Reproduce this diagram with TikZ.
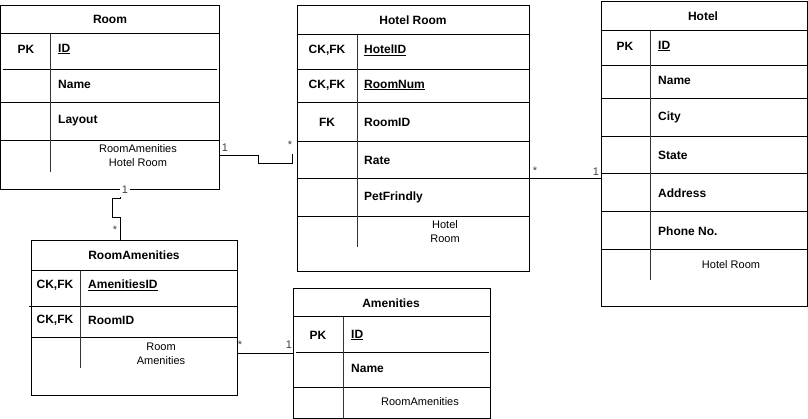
\documentclass[tikz,border=0pt]{standalone}
\usepackage{fontspec}
\setmainfont{Liberation Sans}
\usetikzlibrary{calc}
\begin{document}
\begin{tikzpicture}[x=1pt,y=-1pt,
  tbl/.style={draw, line width=1pt, anchor=north west, inner sep=0pt},
  rowline/.style={line width=1pt},
  divline/.style={line width=1pt, black!80},
  hdr/.style={font=\fontsize{12}{14}\selectfont\bfseries, inner sep=0pt},
  key/.style={font=\fontsize{12}{14}\selectfont\bfseries, inner sep=0pt},
  fld/.style={font=\fontsize{12}{14}\selectfont\bfseries, anchor=west, inner sep=0pt},
  note/.style={font=\fontsize{11}{14}\selectfont, inner sep=0pt, align=center},
  card/.style={font=\fontsize{11}{13}\selectfont, text=black!75, inner sep=1pt},
  conn/.style={line width=1pt}]
\useasboundingbox (0,0) rectangle (808,419);

% ---------- Room ----------
\node[tbl, minimum width=219pt, minimum height=184pt] (room) at (0,5) {};
\draw[rowline] (0,34) -- (219,34);
\draw[rowline] (3,70) -- (217,70);
\draw[rowline] (0,103) -- (219,103);
\draw[rowline] (0,141) -- (219,141);
\draw[divline] (50,34) -- (50,172);
\node[hdr] (roomT) at (110,19) {Room};
\node[key] (roomK1) at (26,49) {PK};
\node[fld] (roomF1) at (58,49) {\underline{ID}};
\node[fld] (roomF2) at (58,84) {Name};
\node[fld] (roomF3) at (58,121) {Layout};
\node[note] (roomN) at (138,156) {RoomAmenities\\Hotel Room};

% ---------- Hotel Room ----------
\node[tbl, minimum width=232pt, minimum height=266pt] (hroom) at (297,5) {};
\foreach \yy in {35,70,103,142,179,217} \draw[rowline] (297,\yy) -- (529,\yy);
\draw[divline] (357,35) -- (357,247);
\node[hdr] (hroomT) at (413,20) {Hotel Room};
\node[key] (hroomK1) at (327,50) {CK,FK};
\node[key] (hroomK2) at (327,85) {CK,FK};
\node[key] (hroomK3) at (327,122) {FK};
\node[fld] (hroomF1) at (364,50) {\underline{HotelID}};
\node[fld] (hroomF2) at (364,85) {\underline{RoomNum}};
\node[fld] (hroomF3) at (364,122) {RoomID};
\node[fld] (hroomF4) at (364,160) {Rate};
\node[fld] (hroomF5) at (364,197) {PetFrindly};
\node[note] (hroomN) at (445,232) {Hotel\\Room};

% ---------- Hotel ----------
\node[tbl, minimum width=206pt, minimum height=305pt] (hotel) at (601,1) {};
\foreach \yy in {31,66,99,137,174,212,250} \draw[rowline] (601,\yy) -- (807,\yy);
\draw[divline] (650,31) -- (650,280);
\node[hdr] (hotelT) at (703,16) {Hotel};
\node[key] (hotelK1) at (625,46) {PK};
\node[fld] (hotelF1) at (658,46) {\underline{ID}};
\node[fld] (hotelF2) at (658,80) {Name};
\node[fld] (hotelF3) at (658,117) {City};
\node[fld] (hotelF4) at (658,155) {State};
\node[fld] (hotelF5) at (658,193) {Address};
\node[fld] (hotelF6) at (658,231) {Phone No.};
\node[note] (hotelN) at (731,265) {Hotel Room};

% ---------- RoomAmenities ----------
\node[tbl, minimum width=206pt, minimum height=155pt] (ra) at (31,240) {};
\draw[rowline] (31,271) -- (237,271);
\draw[rowline] (29,307) -- (238,307);
\draw[rowline] (31,338) -- (237,338);
\draw[divline] (80,271) -- (80,368);
\node[hdr] (raT) at (134,255) {RoomAmenities};
\node[key] (raK1) at (55,285) {CK,FK};
\node[key] (raK2) at (55,320) {CK,FK};
\node[fld] (raF1) at (88,285) {\underline{AmenitiesID}};
\node[fld] (raF2) at (88,320) {RoomID};
\node[note] (raN) at (161,354) {Room\\Amenities};

% ---------- Amenities ----------
\node[tbl, minimum width=197pt, minimum height=130pt] (am) at (293,288) {};
\draw[rowline] (293,317) -- (490,317);
\draw[rowline] (296,352) -- (489,352);
\draw[rowline] (293,387) -- (490,387);
\draw[divline] (343,317) -- (343,418);
\node[hdr] (amT) at (391,303) {Amenities};
\node[key] (amK1) at (318,335) {PK};
\node[fld] (amF1) at (351,335) {\underline{ID}};
\node[fld] (amF2) at (351,368) {Name};
\node[note] (amN) at (420,402) {RoomAmenities};

% ---------- Connectors ----------
% Room -- Hotel Room
\coordinate (c1end) at ($(hroom.north west)+(-5,149)$);
\draw[conn] ($(room.north east)+(0,151)$) -- ++(38,0) -- ++(0,8) -- (c1end |- 0,164) -- (c1end);
\node[card] (l1a) at (225,148) {1};
\node[card] (l1b) at (290,145) {*};

% Hotel Room -- Hotel
\draw[conn] ($(hroom.north east)+(0,174)$) -- ($(hotel.north west)+(0,178)$);
\node[card] (l2a) at (535,171) {*};
\node[card] (l2b) at (596,172) {1};

% Room -- RoomAmenities
\draw[conn] ($(room.south west)+(120,0)$) -- ++(0,9) -- ++(-8,0) -- ++(0,19) -- ++(8,0) -- ($(ra.north west)+(89,0)$);
\node[card, fill=white, minimum width=10pt, minimum height=15pt] (l3a) at (125,190) {1};
\node[card] (l3b) at (115,230) {*};

% RoomAmenities -- Amenities
\draw[conn] ($(ra.north east)+(0,113)$) -- ($(am.north west)+(0,65)$);
\node[card] (l4a) at (240,345) {*};
\node[card] (l4b) at (289,345) {1};
\end{tikzpicture}
\end{document}
